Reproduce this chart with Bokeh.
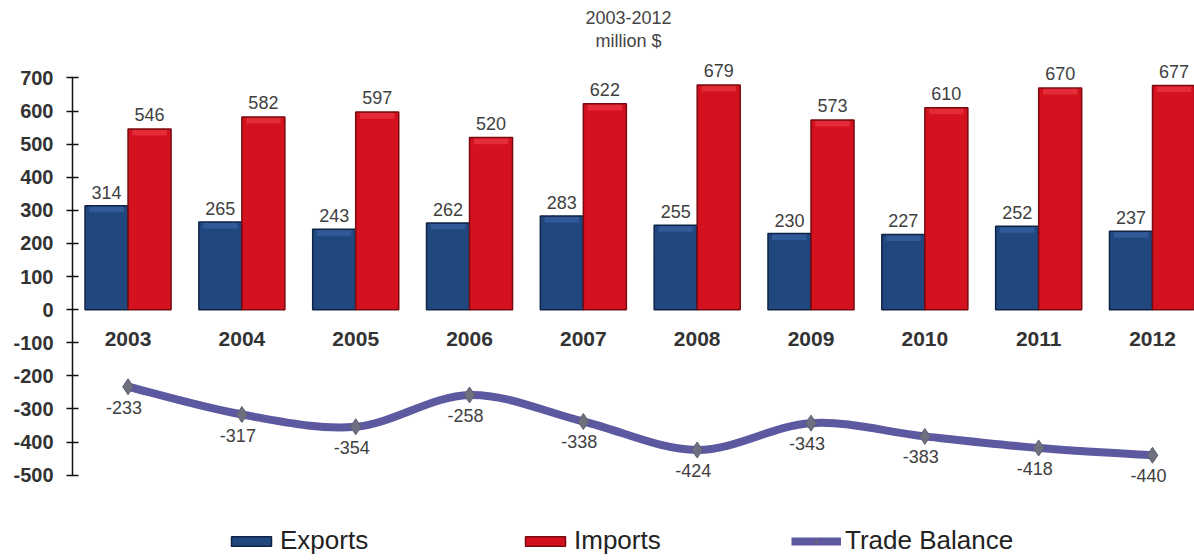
from bokeh.plotting import figure
from bokeh.models import Range1d, FixedTicker, Legend, LegendItem, Label
from bokeh.core.properties import value
from bokeh.embed import file_html
from bokeh.resources import INLINE

years = ["2003", "2004", "2005", "2006", "2007", "2008", "2009", "2010", "2011", "2012"]
exports = [314, 265, 243, 262, 283, 255, 230, 227, 252, 237]
imports = [546, 582, 597, 520, 622, 679, 573, 610, 670, 677]
trade_balance = [-233, -317, -354, -258, -338, -424, -343, -383, -418, -440]
y_ticks = [700, 600, 500, 400, 300, 200, 100, 0, -100, -200, -300, -400, -500]

idx = list(range(len(years)))
BW = 0.378
xe = [i - BW / 2 for i in idx]
xi = [i + BW / 2 for i in idx]
zeros = [0] * len(years)

FONT = "Liberation Sans"

p = figure(width=1194, height=560, output_backend="svg", toolbar_location=None,
           x_range=Range1d(-0.488, 9.369), y_range=Range1d(-758, 934),
           x_axis_type=None, min_border_left=72, min_border_right=0,
           min_border_top=0, min_border_bottom=0)
p.outline_line_color = None
p.grid.visible = False
p.background_fill_color = "white"
p.border_fill_color = "white"

ax = p.yaxis[0]
ax.ticker = FixedTicker(ticks=y_ticks)
ax.bounds = (min(y_ticks), max(y_ticks))
ax.major_label_overrides = {t: str(t) for t in y_ticks}
ax.axis_line_color = "#111111"
ax.axis_line_width = 1.5
ax.major_tick_line_color = "#111111"
ax.major_tick_line_width = 1.5
ax.major_tick_in = 6
ax.major_tick_out = 6
ax.minor_tick_line_color = None
ax.major_label_text_font = FONT
ax.major_label_text_font_style = "bold"
ax.major_label_text_font_size = "20px"
ax.major_label_text_color = "#333333"
ax.major_label_standoff = 13

# bars
r_exp = p.vbar(x=xe, top=exports, bottom=0, width=BW, fill_color="#20487F",
               line_color="#0E2345", line_width=1.5)
r_imp = p.vbar(x=xi, top=imports, bottom=0, width=BW, fill_color="#D4111F",
               line_color="#780A10", line_width=1.5)
# bevel highlights near bar tops
p.vbar(x=xe, top=[v - 3 for v in exports], bottom=[v - 20 for v in exports],
       width=BW * 0.8, fill_color="#3C68A8", line_color=None, fill_alpha=0.6)
p.vbar(x=xi, top=[v - 3 for v in imports], bottom=[v - 20 for v in imports],
       width=BW * 0.8, fill_color="#EE3E49", line_color=None, fill_alpha=0.6)

# smooth trade balance line via bezier segments
n = len(idx)
x0, y0, x1, y1, cx0, cy0, cx1, cy1 = [], [], [], [], [], [], [], []
for i in range(n - 1):
    im1 = max(i - 1, 0)
    ip2 = min(i + 2, n - 1)
    x0.append(idx[i]); y0.append(trade_balance[i])
    x1.append(idx[i + 1]); y1.append(trade_balance[i + 1])
    cx0.append(idx[i] + (idx[i + 1] - idx[im1]) / 6)
    cy0.append(trade_balance[i] + (trade_balance[i + 1] - trade_balance[im1]) / 6)
    cx1.append(idx[i + 1] - (idx[ip2] - idx[i]) / 6)
    cy1.append(trade_balance[i + 1] - (trade_balance[ip2] - trade_balance[i]) / 6)
r_line = p.bezier(x0=x0, y0=y0, x1=x1, y1=y1, cx0=cx0, cy0=cy0, cx1=cx1, cy1=cy1,
                  line_color="#5D59A0", line_width=8)
r_pts = p.scatter(x=idx, y=trade_balance, marker="diamond", size=16,
                  fill_color="#6E7080", line_color="#5E6070")

# data labels
p.text(x=xe, y=exports, text=[str(v) for v in exports], text_align="center",
       text_baseline="bottom", y_offset=-7, text_font=value(FONT),
       text_font_size="18px", text_color="#404040")
p.text(x=xi, y=imports, text=[str(v) for v in imports], text_align="center",
       text_baseline="bottom", y_offset=-8, text_font=value(FONT),
       text_font_size="18px", text_color="#404040")
p.text(x=idx, y=trade_balance, text=[str(v) for v in trade_balance], text_align="center",
       text_baseline="top", y_offset=14, x_offset=-4, text_font=value(FONT),
       text_font_size="18px", text_color="#404040")
# category labels at zero line
p.text(x=idx, y=zeros, text=years, text_align="center", text_baseline="middle",
       y_offset=29, text_font=value(FONT), text_font_style="bold",
       text_font_size="21px", text_color="#333333")

# title lines
for txt, yy in [("2003-2012", 17), ("million $", 40)]:
    p.add_layout(Label(x=556, y=560 - yy, x_units="screen", y_units="screen",
                       text=txt, text_align="center", text_baseline="middle",
                       text_font=FONT, text_font_size="18px", text_color="#444444"))

items = [("Exports", [r_exp], 154), ("Imports", [r_imp], 448),
         ("Trade Balance", [r_line, r_pts], 719)]
for label, rends, lx in items:
    lg = Legend(items=[LegendItem(label=label, renderers=rends)],
                orientation="horizontal", location=(lx, 4), padding=0, margin=0,
                label_standoff=4, glyph_width=50, glyph_height=12, label_height=26,
                label_text_font=FONT, label_text_font_size="26px",
                label_text_color="#222222", border_line_color=None,
                background_fill_alpha=0)
    p.add_layout(lg)

open("out.html", "w").write(file_html(p, INLINE))
